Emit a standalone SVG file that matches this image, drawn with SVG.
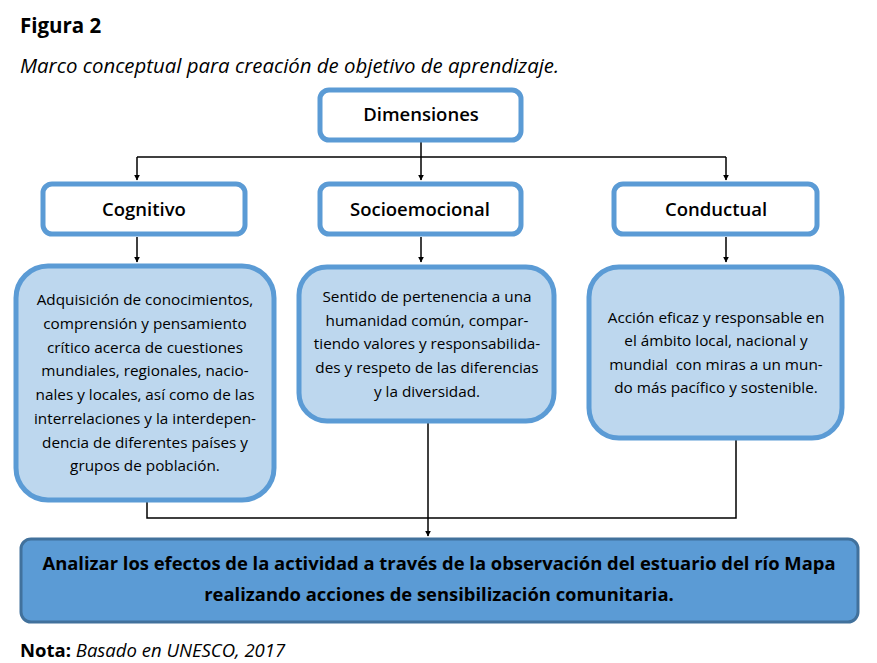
<svg xmlns="http://www.w3.org/2000/svg" width="877" height="663" viewBox="0 0 877 663">
<defs>
<marker id="ah" viewBox="0 0 10 10" refX="9" refY="5" markerWidth="6" markerHeight="6" orient="auto" markerUnits="userSpaceOnUse"><path d="M0,0 L10,5 L0,10 z" fill="#000"/></marker>
<style>
.hdr{fill:#fff;stroke:#5b9bd5;stroke-width:5}
.det{fill:#bdd7ee;stroke:#5b9bd5;stroke-width:5}
.ht{font-family:"Open Sans","Noto Sans",sans-serif;font-size:18.5px;font-weight:600;fill:#000;text-anchor:middle}
.dt{font-family:"Open Sans","Noto Sans",sans-serif;font-size:15.3px;fill:#000;text-anchor:middle}
.ln{fill:none;stroke:#000;stroke-width:1.5}
.bt{font-family:"Open Sans","Noto Sans",sans-serif;font-size:18.4px;font-weight:700;fill:#000;text-anchor:middle}
</style>
</defs>
<rect width="877" height="663" fill="#fff"/>
<text x="20" y="33" font-family="Open Sans, Noto Sans, sans-serif" font-size="20.5" font-weight="700">Figura 2</text>
<text x="20" y="73" font-family="Open Sans, Noto Sans, sans-serif" font-size="20.4" font-style="italic">Marco conceptual para creación de objetivo de aprendizaje.</text>

<g id="connectors">
<path class="ln" d="M421,141 V157"/>
<path class="ln" d="M137,157 H726"/>
<path class="ln" d="M137,157 V180" marker-end="url(#ah)"/>
<path class="ln" d="M421,157 V180" marker-end="url(#ah)"/>
<path class="ln" d="M726,157 V180" marker-end="url(#ah)"/>
<path class="ln" d="M137,237 V262" marker-end="url(#ah)"/>
<path class="ln" d="M421,237 V262" marker-end="url(#ah)"/>
<path class="ln" d="M726,237 V262" marker-end="url(#ah)"/>
<path class="ln" d="M147,502 V518 H736 V440"/>
<path class="ln" d="M428,423 V536" marker-end="url(#ah)"/>
</g>

<g id="dimensiones">
<rect class="hdr" x="320" y="90" width="201" height="50" rx="9"/>
<text class="ht" x="421" y="121">Dimensiones</text>
</g>
<g id="cognitivo">
<rect class="hdr" x="43" y="184" width="202" height="50" rx="9"/>
<text class="ht" x="144" y="216">Cognitivo</text>
</g>
<g id="socioemocional">
<rect class="hdr" x="320" y="184" width="201" height="50" rx="9"/>
<text class="ht" x="420" y="216">Socioemocional</text>
</g>
<g id="conductual">
<rect class="hdr" x="614" y="184" width="203" height="50" rx="9"/>
<text class="ht" x="716" y="216">Conductual</text>
</g>

<g id="cognitivo-detalle">
<rect class="det" x="16" y="266" width="258" height="234" rx="32"/>
<text class="dt" x="145" y="305">Adquisición de conocimientos,</text>
<text class="dt" x="145" y="329">comprensión y pensamiento</text>
<text class="dt" x="145" y="353">crítico acerca de cuestiones</text>
<text class="dt" x="145" y="376">mundiales, regionales, nacio-</text>
<text class="dt" x="145" y="400">nales y locales, así como de las</text>
<text class="dt" x="145" y="424">interrelaciones y la interdepen-</text>
<text class="dt" x="145" y="448">dencia de diferentes países y</text>
<text class="dt" x="145" y="471">grupos de población.</text>
</g>
<g id="socioemocional-detalle">
<rect class="det" x="299" y="267" width="255" height="154" rx="28"/>
<text class="dt" x="427" y="302">Sentido de pertenencia a una</text>
<text class="dt" x="427" y="326">humanidad común, compar-</text>
<text class="dt" x="427" y="349">tiendo valores y responsabilida-</text>
<text class="dt" x="427" y="373">des y respeto de las diferencias</text>
<text class="dt" x="427" y="397">y la diversidad.</text>
</g>
<g id="conductual-detalle">
<rect class="det" x="589" y="267" width="253" height="171" rx="30"/>
<text class="dt" x="716" y="323">Acción eficaz y responsable en</text>
<text class="dt" x="716" y="346">el ámbito local, nacional y</text>
<text class="dt" x="716" y="370" xml:space="preserve">mundial  con miras a un mun-</text>
<text class="dt" x="716" y="393">do más pacífico y sostenible.</text>
</g>

<g id="objetivo">
<rect x="21" y="539" width="837" height="83" rx="10" fill="#5b9bd5" stroke="#41719c" stroke-width="3"/>
<text class="bt" x="439" y="570">Analizar los efectos de la actividad a través de la observación del estuario del río Mapa</text>
<text class="bt" x="439" y="601">realizando acciones de sensibilización comunitaria.</text>
</g>

<text x="20" y="657" font-family="Open Sans, Noto Sans, sans-serif" font-size="18.5"><tspan font-weight="700">Nota:</tspan> <tspan font-style="italic">Basado en UNESCO, 2017</tspan></text>
</svg>
